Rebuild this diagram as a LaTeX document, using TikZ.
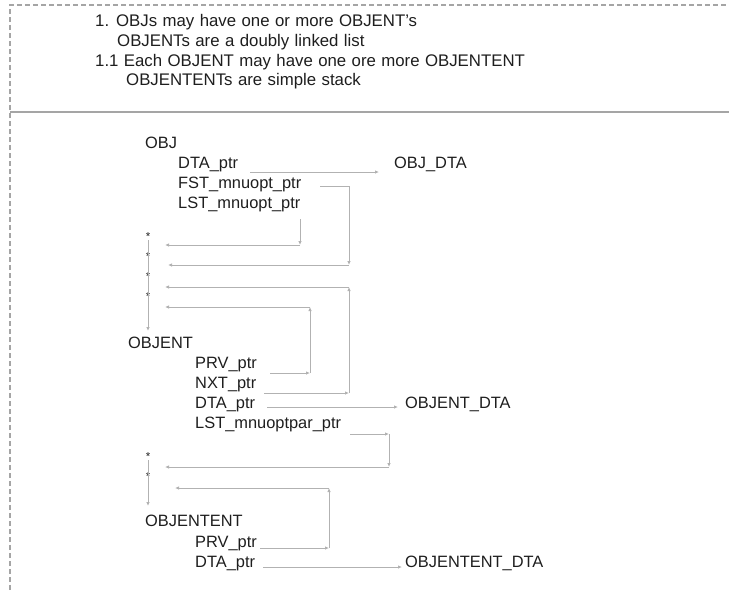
\documentclass[tikz,border=0pt]{standalone}
\usepackage{fontspec}
\setmainfont{Liberation Sans}
\usetikzlibrary{arrows.meta}
\definecolor{txtgray}{RGB}{30,30,30}
\definecolor{linegray}{RGB}{178,178,178}
\definecolor{framegray}{RGB}{165,165,165}
\newcommand\headfont{\fontsize{16.8}{19}\selectfont\spaceskip=5.4pt plus 1pt\relax}
\tikzset{
  lbl/.style={anchor=base west, inner sep=0pt, text=txtgray, font=\fontsize{16.4}{19}\selectfont},
  headline/.style={lbl, font=\headfont},
  star/.style={inner sep=0pt, text=txtgray, font=\fontsize{11.5}{13}\selectfont},
  ptr/.style={draw=linegray, line width=0.9pt, -{Latex[length=4pt,width=3.5pt]}},
}
\begin{document}
\begin{tikzpicture}[x=1pt, y=-1pt]
        \useasboundingbox (0,0) rectangle (729,590);
        % Rahmen
        \draw[framegray, line width=1.4pt, dash pattern=on 5pt off 3pt] (10,590) -- (10,5) -- (729,5);
        \draw[framegray, line width=2pt] (10,112) -- (729,112);

        % Kopftext
        \node[headline] (h1) at (95,26) {1. OBJs may have one or more OBJENT's};
        \node[headline] (h2) at (117,46) {OBJENTs are a doubly linked list};
        \node[headline] (h3) at (95,66) {1.1 Each OBJENT may have one ore more OBJENTENT};
        \node[headline] (h4) at (126,85) {OBJENTENTs are simple stack};

        % OBJ
        \node[lbl] (obj) at (145,148) {OBJ};
        \node[lbl] (objdtaptr) at (178,168) {DTA\_ptr};
        \node[lbl] (objfst) at (178,188) {FST\_mnuopt\_ptr};
        \node[lbl] (objlst) at (178,208) {LST\_mnuopt\_ptr};
        \node[lbl] (objdta) at (394,168) {OBJ\_DTA};

        % Liste
        \node[star] (s1) at (148,237) {*};
        \node[star] (s2) at (148,257) {*};
        \node[star] (s3) at (148,277) {*};
        \node[star] (s4) at (148,297) {*};

        % OBJENT
        \node[lbl] (objent) at (128,348) {OBJENT};
        \node[lbl] (entprv) at (195,368) {PRV\_ptr};
        \node[lbl] (entnxt) at (195,388) {NXT\_ptr};
        \node[lbl] (entdtaptr) at (195,408) {DTA\_ptr};
        \node[lbl] (entlst) at (195,428) {LST\_mnuoptpar\_ptr};
        \node[lbl] (entdta) at (405,408) {OBJENT\_DTA};

        % Stapel
        \node[star] (s5) at (148,457) {*};
        \node[star] (s6) at (148,477) {*};

        % OBJENTENT
        \node[lbl] (ent2) at (145,526) {OBJENTENT};
        \node[lbl] (ent2prv) at (195,547) {PRV\_ptr};
        \node[lbl] (ent2dtaptr) at (195,567) {DTA\_ptr};
        \node[lbl] (ent2dta) at (405,567) {OBJENTENT\_DTA};

        % Punkte
        \coordinate (objdtaA) at (250,172);
        \coordinate (objdtaB) at (379,172);
        \coordinate (fstA) at (320,186);
        \coordinate (fstB) at (349,186);
        \coordinate (fstC) at (349,265);
        \coordinate (fstD) at (168,265);
        \coordinate (lstA) at (300,219);
        \coordinate (lstB) at (300,245);
        \coordinate (lstD) at (165,245);
        \coordinate (listA) at (148,240);
        \coordinate (listB) at (148,331);
        \coordinate (prvA) at (270,373);
        \coordinate (prvB) at (310,373);
        \coordinate (prvC) at (310,307);
        \coordinate (prvD) at (165,307);
        \coordinate (nxtA) at (264,393);
        \coordinate (nxtB) at (349,393);
        \coordinate (nxtC) at (349,287);
        \coordinate (nxtD) at (165,287);
        \coordinate (entdtaA) at (267,407);
        \coordinate (entdtaB) at (398,407);
        \coordinate (parA) at (350,434);
        \coordinate (parB) at (389,434);
        \coordinate (parC) at (389,467);
        \coordinate (parD) at (165,467);
        \coordinate (stackA) at (148,460);
        \coordinate (stackB) at (148,506);
        \coordinate (e2prvA) at (260,548);
        \coordinate (e2prvB) at (329,548);
        \coordinate (e2prvC) at (329,488);
        \coordinate (e2prvD) at (175,488);
        \coordinate (e2dtaA) at (263,567);
        \coordinate (e2dtaB) at (402,567);

        % Zeiger OBJ
        \draw[ptr] (objdtaA) -- (objdtaB);
        \draw[ptr] (fstA) -- (fstB) -- (fstC);
        \draw[ptr] (fstC) -- (fstD);
        \draw[ptr] (lstA) -- (lstB);
        \draw[ptr] (lstB) -- (lstD);
        \draw[ptr] (listA) -- (listB);

        % Zeiger OBJENT
        \draw[ptr] (prvA) -- (prvB);
        \draw[ptr] (prvB) -- (prvC);
        \draw[ptr] (prvC) -- (prvD);
        \draw[ptr] (nxtA) -- (nxtB);
        \draw[ptr] (nxtB) -- (nxtC);
        \draw[ptr] (nxtC) -- (nxtD);
        \draw[ptr] (entdtaA) -- (entdtaB);
        \draw[ptr] (parA) -- (parB);
        \draw[ptr] (parB) -- (parC);
        \draw[ptr] (parC) -- (parD);
        \draw[ptr] (stackA) -- (stackB);

        % Zeiger OBJENTENT
        \draw[ptr] (e2prvA) -- (e2prvB);
        \draw[ptr] (e2prvB) -- (e2prvC);
        \draw[ptr] (e2prvC) -- (e2prvD);
        \draw[ptr] (e2dtaA) -- (e2dtaB);
\end{tikzpicture}
\end{document}
